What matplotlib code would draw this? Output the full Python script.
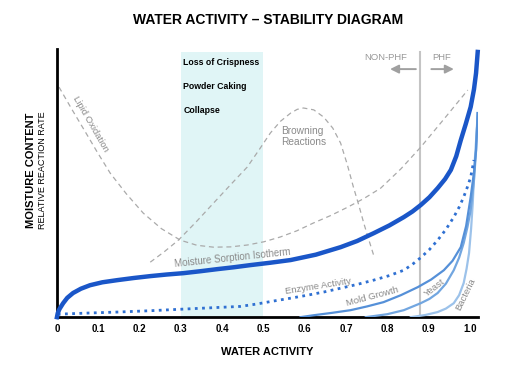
import matplotlib.pyplot as plt

plt.rcParams['font.family'] = ['Liberation Sans', 'DejaVu Sans']

# Curves (water activity, relative level 0..1)
sorption_x = [0.0, 0.002, 0.006, 0.015, 0.025, 0.039, 0.058, 0.080, 0.110, 0.146,
              0.186, 0.226, 0.266, 0.306, 0.346, 0.388, 0.428, 0.468, 0.517, 0.566,
              0.627, 0.687, 0.727, 0.767, 0.805, 0.840, 0.861, 0.881, 0.902, 0.922,
              0.940, 0.954, 0.967, 0.978, 0.990, 1.002, 1.010, 1.015, 1.019]
sorption_y = [0.0, 0.015, 0.030, 0.052, 0.072, 0.090, 0.106, 0.119, 0.130, 0.138,
              0.146, 0.153, 0.159, 0.164, 0.171, 0.179, 0.186, 0.194, 0.203, 0.213,
              0.233, 0.261, 0.284, 0.313, 0.342, 0.373, 0.394, 0.418, 0.447, 0.481,
              0.515, 0.549, 0.600, 0.660, 0.720, 0.784, 0.850, 0.910, 0.989]

enzyme_x = [0.002, 0.070, 0.146, 0.226, 0.306, 0.388, 0.444, 0.484, 0.524, 0.567,
            0.607, 0.647, 0.687, 0.727, 0.767, 0.805, 0.840, 0.861, 0.881, 0.902,
            0.922, 0.942, 0.961, 0.974, 0.985, 0.994, 1.002, 1.010]
enzyme_y = [0.011, 0.015, 0.019, 0.024, 0.030, 0.036, 0.040, 0.049, 0.060, 0.071,
            0.082, 0.094, 0.108, 0.122, 0.138, 0.155, 0.175, 0.197, 0.222, 0.252,
            0.287, 0.327, 0.373, 0.410, 0.448, 0.485, 0.522, 0.586]

mold_x = [0.590, 0.621, 0.666, 0.711, 0.751, 0.791, 0.833, 0.874, 0.906, 0.937,
          0.958, 0.978, 0.991, 1.002, 1.010, 1.015, 1.019]
mold_y = [0.0, 0.007, 0.016, 0.026, 0.040, 0.056, 0.082, 0.112, 0.140, 0.175,
          0.210, 0.261, 0.340, 0.448, 0.540, 0.623, 0.761]

yeast_x = [0.748, 0.800, 0.840, 0.881, 0.902, 0.922, 0.942, 0.961, 0.974, 0.985,
           0.994, 1.002, 1.010, 1.015, 1.019]
yeast_y = [0.0, 0.011, 0.026, 0.052, 0.068, 0.090, 0.125, 0.175, 0.222, 0.276,
           0.335, 0.399, 0.511, 0.620, 0.761]

bacteria_x = [0.857, 0.892, 0.922, 0.942, 0.961, 0.974, 0.985, 0.992, 0.998, 1.003,
              1.007, 1.012, 1.016, 1.019]
bacteria_y = [0.0, 0.008, 0.019, 0.032, 0.052, 0.082, 0.127, 0.180, 0.239, 0.330,
              0.425, 0.586, 0.680, 0.761]

lipid_x = [0.005, 0.035, 0.066, 0.097, 0.129, 0.168, 0.209, 0.253, 0.299, 0.339,
           0.379, 0.420, 0.461, 0.501, 0.541, 0.581, 0.621, 0.663, 0.704, 0.744,
           0.784, 0.833, 0.881, 0.938, 0.995]
lipid_y = [0.858, 0.778, 0.698, 0.617, 0.537, 0.460, 0.388, 0.330, 0.287, 0.268,
           0.261, 0.262, 0.269, 0.281, 0.299, 0.322, 0.351, 0.379, 0.410, 0.443,
           0.481, 0.553, 0.634, 0.740, 0.847]

browning_x = [0.226, 0.260, 0.294, 0.337, 0.379, 0.420, 0.461, 0.490, 0.517, 0.541,
              0.566, 0.582, 0.597, 0.622, 0.646, 0.668, 0.687, 0.703, 0.718, 0.731,
              0.743, 0.755, 0.767]
browning_y = [0.205, 0.244, 0.287, 0.355, 0.425, 0.493, 0.560, 0.625, 0.687, 0.730,
              0.761, 0.775, 0.780, 0.773, 0.746, 0.705, 0.649, 0.570, 0.485, 0.418,
              0.351, 0.290, 0.231]

ticks = [0, 0.1, 0.2, 0.3, 0.4, 0.5, 0.6, 0.7, 0.8, 0.9, 1.0]
tick_labels = ['0', '0.1', '0.2', '0.3', '0.4', '0.5', '0.6', '0.7', '0.8', '0.9', '1.0']
box_texts = ['Loss of Crispness', 'Powder Caking', 'Collapse']

fig = plt.figure(figsize=(5.13, 3.74), dpi=100)
ax = fig.add_axes([0.111, 0.152, 0.821, 0.717])

gray = '#999999'
ax.axvspan(0.3, 0.5, ymax=0.99, color='#e0f5f6', lw=0, zorder=0)
ax.plot([0.88, 0.88], [0, 0.99], color='#c4c4c4', lw=1.5, zorder=1)

ax.plot(lipid_x, lipid_y, color='#aaaaaa', lw=0.9, ls=(0, (4, 3)), zorder=2)
ax.plot(browning_x, browning_y, color='#aaaaaa', lw=0.9, ls=(0, (4, 3)), zorder=2)

ax.plot(bacteria_x, bacteria_y, color='#9cc2ea', lw=1.6, zorder=3)
ax.plot(yeast_x, yeast_y, color='#72a6e0', lw=1.6, zorder=3)
ax.plot(mold_x, mold_y, color='#5590d8', lw=1.6, zorder=3)
ax.plot(enzyme_x, enzyme_y, color='#2f70d2', lw=2, ls=(0, (1, 1.6)), zorder=3)
ax.plot(sorption_x, sorption_y, color='#1a56c8', lw=3.2, zorder=4, clip_on=False)

for i, t in enumerate(box_texts):
    ax.text(0.306, 0.948 - i * 0.089, t, fontsize=6.3, fontweight='bold',
            va='center', ha='left')

lab = dict(color='#8a8a8a', fontsize=6.8, ha='center', va='center')
ax.text(0.082, 0.722, 'Lipid Oxidation', rotation=-60, **lab)
ax.text(0.542, 0.675, 'Browning\nReactions', color='#8a8a8a', fontsize=7.3,
        ha='left', va='center', linespacing=1.1)
ax.text(0.425, 0.222, 'Moisture Sorption Isotherm', rotation=6, color='#8a8a8a',
        fontsize=7, ha='center', va='center')
ax.text(0.633, 0.114, 'Enzyme Activity', rotation=9, **lab)
ax.text(0.765, 0.077, 'Mold Growth', rotation=15, **lab)
ax.text(0.915, 0.108, 'Yeast', rotation=38, **lab)
ax.text(0.990, 0.085, 'Bacteria', rotation=64, **lab)

ax.text(0.796, 0.968, 'NON-PHF', color=gray, fontsize=6.8, ha='center', va='center')
ax.text(0.932, 0.968, 'PHF', color=gray, fontsize=6.8, ha='center', va='center')
arrow = dict(arrowstyle='-|>,head_length=0.5,head_width=0.25', color='#a0a0a0', lw=1.4)
ax.annotate('', xy=(0.800, 0.925), xytext=(0.876, 0.925), arrowprops=arrow)
ax.annotate('', xy=(0.968, 0.925), xytext=(0.900, 0.925), arrowprops=arrow)

ax.set_xlim(0, 1.02)
ax.set_ylim(0, 1.0)
ax.set_xticks(ticks)
ax.set_xticklabels(tick_labels, fontweight='bold', fontsize=7)
ax.tick_params(axis='x', length=0, pad=5)
ax.set_yticks([])
for s in ['top', 'right']:
    ax.spines[s].set_visible(False)
for s in ['left', 'bottom']:
    ax.spines[s].set_linewidth(2)
ax.set_xlabel('WATER ACTIVITY', fontweight='bold', fontsize=8, labelpad=9)

fig.text(0.060, 0.545, 'MOISTURE CONTENT', rotation=90, fontweight='bold',
         fontsize=8, ha='center', va='center')
fig.text(0.082, 0.545, 'RELATIVE REACTION RATE', rotation=90, fontsize=6.5,
         ha='center', va='center')
fig.text(0.522, 0.947, 'WATER ACTIVITY – STABILITY DIAGRAM', fontweight='bold',
         fontsize=10, ha='center', va='center')

plt.savefig('out.png', dpi=100)
